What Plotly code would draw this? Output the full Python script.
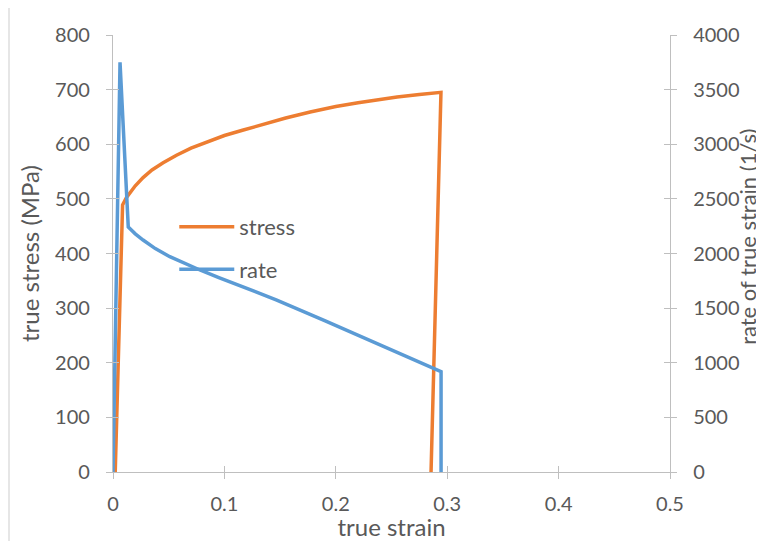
import plotly.graph_objects as go

# stress curve (true strain, true stress MPa)
stress_strain = [0.002, 0.0072, 0.0086, 0.012, 0.015, 0.02, 0.027, 0.035, 0.045, 0.057, 0.07, 0.085,
                 0.1, 0.117, 0.135, 0.155, 0.177, 0.2, 0.22, 0.237, 0.255, 0.275, 0.2944, 0.2855]
stress_val = [0, 413, 489, 502, 511, 524, 539, 553, 566, 580, 593, 605,
              616, 626, 637, 648, 659, 669, 676, 681.5, 686.5, 691, 695, 0]

# strain-rate curve (true strain, 1/s)
rate_strain = [0.0, 0.0063, 0.0137, 0.02, 0.027, 0.038, 0.051, 0.065, 0.078, 0.095, 0.11, 0.13,
               0.147, 0.19, 0.237, 0.27, 0.2945, 0.2945]
rate_val = [0, 3750, 2243, 2180, 2123, 2045, 1971, 1906, 1849, 1780, 1721, 1645,
            1574, 1385, 1178, 1026, 918, 0]

x_ticks = [0, 0.1, 0.2, 0.3, 0.4, 0.5]
y_ticks = [0, 100, 200, 300, 400, 500, 600, 700, 800]
y2_ticks = [0, 500, 1000, 1500, 2000, 2500, 3000, 3500, 4000]

FONT = "Lato"
TXT = "#595959"
AX = "#bfbfbf"

fig = go.Figure()
fig.add_trace(go.Scatter(x=stress_strain, y=stress_val, mode="lines", name="stress",
                         line=dict(color="#ED7D31", width=3.5), legendgroup="a"))
fig.add_trace(go.Scatter(x=rate_strain, y=rate_val, mode="lines", name="rate",
                         line=dict(color="#5B9BD5", width=3.5), yaxis="y2", legendgroup="b"))
# invisible helpers so the inner-tick axes render
fig.add_trace(go.Scatter(x=[None], y=[None], xaxis="x2", yaxis="y3", showlegend=False, hoverinfo="skip"))
fig.add_trace(go.Scatter(x=[None], y=[None], xaxis="x2", yaxis="y4", showlegend=False, hoverinfo="skip"))

common = dict(showgrid=False, zeroline=False, ticklen=6, tickwidth=1.3, tickcolor=AX, automargin=False,
              tickfont=dict(family=FONT, size=20, color=TXT))

fig.update_layout(
    width=756, height=533,
    margin=dict(l=105, r=94, t=27, b=69),
    paper_bgcolor="white", plot_bgcolor="white",
    font=dict(family=FONT, size=20, color=TXT),
    xaxis=dict(range=[0, 0.5], tickvals=x_ticks, ticktext=[str(v) for v in x_ticks],
               showline=True, linecolor=AX, linewidth=1.3, ticks="outside",
               ticklabelstandoff=8,
               title=dict(text="true strain", font=dict(family=FONT, size=24, color=TXT), standoff=0),
               **common),
    yaxis=dict(range=[0, 800], tickvals=y_ticks, showline=True, linecolor=AX, linewidth=1.3,
               ticks="outside", ticklabelstandoff=12,
               title=dict(text="true stress (MPa)", font=dict(family=FONT, size=24, color=TXT), standoff=8),
               **common),
    yaxis2=dict(range=[0, 4000], tickvals=y2_ticks, overlaying="y", side="right", anchor="x",
                showline=True, linecolor=AX, linewidth=1.3, ticks="outside", ticklabelstandoff=12,
                **common),
    xaxis2=dict(range=[0, 0.5], tickvals=x_ticks, overlaying="x", anchor="y3", ticks="inside",
                showticklabels=False, showline=False, showgrid=False, zeroline=False, automargin=False,
                ticklen=6, tickwidth=1.3, tickcolor=AX),
    yaxis3=dict(range=[0, 800], tickvals=y_ticks, overlaying="y", anchor="x2", ticks="inside",
                showticklabels=False, showline=False, showgrid=False, zeroline=False, automargin=False,
                ticklen=6, tickwidth=1.3, tickcolor=AX),
    yaxis4=dict(range=[0, 4000], tickvals=y2_ticks, overlaying="y", side="right", anchor="x2",
                ticks="inside", showticklabels=False, showline=False, showgrid=False, zeroline=False,
                automargin=False, ticklen=6, tickwidth=1.3, tickcolor=AX),
    legend=dict(x=0.11, y=0.609, xanchor="left", yanchor="top", bgcolor="rgba(0,0,0,0)",
                font=dict(family=FONT, size=22, color=TXT), traceorder="grouped",
                tracegroupgap=11, itemwidth=55),
    annotations=[dict(text="rate of true strain (1/s)", textangle=-90, xref="paper", yref="paper",
                      x=1.140, y=0.538, xanchor="center", yanchor="middle", showarrow=False,
                      font=dict(family=FONT, size=22, color=TXT))],
    shapes=[dict(type="rect", xref="paper", yref="paper", x0=-0.1867, x1=1.2, y0=-0.2, y1=1.0664,
                 line=dict(color="#d9d9d9", width=1.3), fillcolor="rgba(0,0,0,0)", layer="below")],
)

fig.write_html("out.html")
